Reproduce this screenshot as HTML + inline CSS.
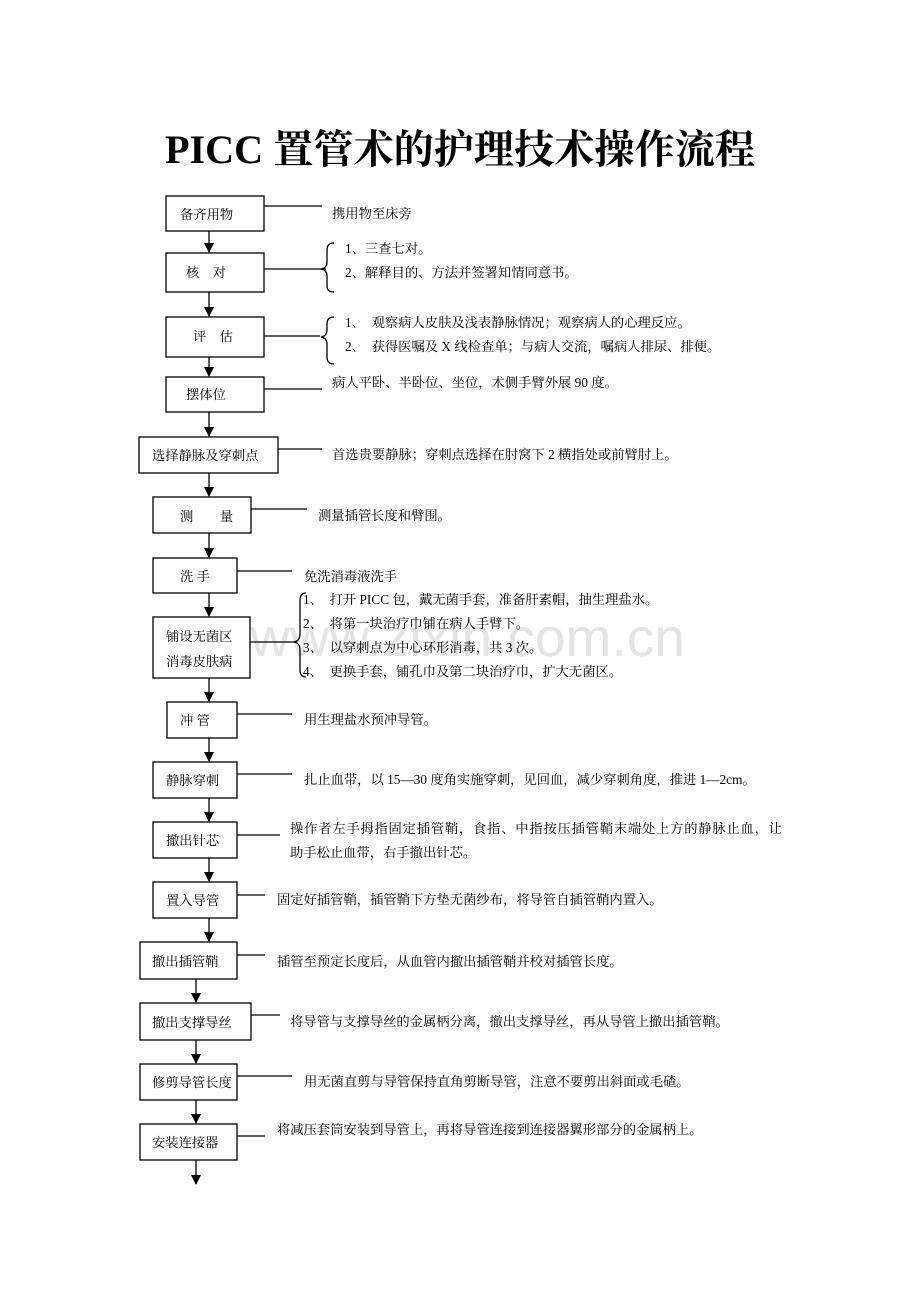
<!DOCTYPE html>
<html><head><meta charset="utf-8"><style>
html,body{margin:0;padding:0;background:#fff}
svg{display:block}
text{font-family:"Liberation Serif","Noto Serif CJK SC","Noto Sans CJK SC",serif;font-size:13.3px;fill:#000}
.t{font-size:40px;font-weight:bold}
.w{font-family:"Liberation Sans",sans-serif;font-size:54px;fill:#e4e4e4}
</style></head><body>
<svg width="920" height="1302" viewBox="0 0 920 1302" xmlns="http://www.w3.org/2000/svg">
<defs><marker id="a" markerWidth="10" markerHeight="10" refX="5" refY="9" orient="0" markerUnits="userSpaceOnUse"><path d="M0,0 L10,0 L5,10 Z" fill="#000"/></marker></defs>
<text class="w" x="250" y="656" textLength="435" lengthAdjust="spacingAndGlyphs">www.zixin.com.cn</text>
<text class="t" x="460" y="163" text-anchor="middle" textLength="590" lengthAdjust="spacingAndGlyphs">PICC 置管术的护理技术操作流程</text>
<g fill="none" stroke="#000" stroke-width="1.3">
<rect x="166" y="196" width="98" height="35"/>
<rect x="166" y="253" width="98" height="39"/>
<rect x="166" y="317" width="98" height="40"/>
<rect x="166" y="377" width="98" height="35"/>
<rect x="139" y="437" width="139" height="36"/>
<rect x="153" y="497" width="98" height="36"/>
<rect x="153" y="558" width="84" height="35"/>
<rect x="153" y="617" width="97" height="61"/>
<rect x="167" y="702" width="70" height="36"/>
<rect x="153" y="762" width="84" height="36"/>
<rect x="153" y="822" width="84" height="36"/>
<rect x="153" y="882" width="84" height="36"/>
<rect x="140" y="942" width="97" height="37"/>
<rect x="140" y="1003" width="111" height="37"/>
<rect x="140" y="1064" width="97" height="36"/>
<rect x="140" y="1124" width="97" height="36"/>
<path d="M264 206H322M264 269H326M264 336H320M264 389H322M278 449H322M251 509H307M237 571H292M250 642H295M237 714H292M237 774H292M237 835H280M237 895H265M237 955H265M251 1015H280M237 1076H292M237 1136H265"/>
<path d="M334 243 Q327 243 327 250 V262 Q327 268 321 269 Q327 270 327 276 V286 Q327 292 334 292"/>
<path d="M334 317 Q327 317 327 324 V330 Q327 336 321 337 Q327 338 327 344 V357 Q327 364 334 364"/>
<path d="M306 593 Q300 593 300 600 V634 Q300 641 294 642 Q300 643 300 650 V670 Q300 677 306 677"/>
</g>
<g stroke="#000" stroke-width="1.3">
<line x1="209" y1="231" x2="209" y2="252" marker-end="url(#a)"/>
<line x1="209" y1="292" x2="209" y2="316" marker-end="url(#a)"/>
<line x1="209" y1="357" x2="209" y2="376" marker-end="url(#a)"/>
<line x1="209" y1="412" x2="209" y2="436" marker-end="url(#a)"/>
<line x1="209" y1="473" x2="209" y2="496" marker-end="url(#a)"/>
<line x1="209" y1="533" x2="209" y2="557" marker-end="url(#a)"/>
<line x1="209" y1="593" x2="209" y2="616" marker-end="url(#a)"/>
<line x1="209" y1="678" x2="209" y2="701" marker-end="url(#a)"/>
<line x1="209" y1="738" x2="209" y2="761" marker-end="url(#a)"/>
<line x1="209" y1="798" x2="209" y2="821" marker-end="url(#a)"/>
<line x1="209" y1="858" x2="209" y2="881" marker-end="url(#a)"/>
<line x1="209" y1="918" x2="209" y2="941" marker-end="url(#a)"/>
<line x1="196" y1="979" x2="196" y2="1002" marker-end="url(#a)"/>
<line x1="196" y1="1040" x2="196" y2="1063" marker-end="url(#a)"/>
<line x1="196" y1="1100" x2="196" y2="1123" marker-end="url(#a)"/>
<line x1="196" y1="1160" x2="196" y2="1184" marker-end="url(#a)"/>
</g>
<text x="180" y="219">备齐用物</text>
<text x="186" y="277">核　对</text>
<text x="193" y="341">评　估</text>
<text x="186" y="399">摆体位</text>
<text x="152" y="460">选择静脉及穿刺点</text>
<text x="180" y="521">测　　量</text>
<text x="180" y="581">洗 手</text>
<text x="166" y="641">铺设无菌区</text>
<text x="166" y="666">消毒皮肤病</text>
<text x="180" y="725">冲 管</text>
<text x="166" y="785">静脉穿刺</text>
<text x="166" y="845">撤出针芯</text>
<text x="166" y="905">置入导管</text>
<text x="152" y="966">撤出插管鞘</text>
<text x="152" y="1027">撤出支撑导丝</text>
<text x="152" y="1087">修剪导管长度</text>
<text x="152" y="1147">安装连接器</text>
<text x="332" y="218">携用物至床旁</text>
<text x="345" y="253">1、三查七对。</text>
<text x="345" y="277">2、解释目的、方法并签署知情同意书。</text>
<text x="345" y="327">1、　观察病人皮肤及浅表静脉情况；观察病人的心理反应。</text>
<text x="345" y="351">2、　获得医嘱及 X 线检查单；与病人交流，嘱病人排尿、排便。</text>
<text x="332" y="387">病人平卧、半卧位、坐位，术侧手臂外展 90 度。</text>
<text x="332" y="459">首选贵要静脉；穿刺点选择在肘窝下 2 横指处或前臂肘上。</text>
<text x="318" y="520">测量插管长度和臂围。</text>
<text x="304" y="581">免洗消毒液洗手</text>
<text x="303" y="604">1、　打开 PICC 包，戴无菌手套，准备肝素帽，抽生理盐水。</text>
<text x="303" y="628">2、　将第一块治疗巾铺在病人手臂下。</text>
<text x="303" y="652">3、　以穿刺点为中心环形消毒，共 3 次。</text>
<text x="303" y="676">4、　更换手套，铺孔巾及第二块治疗巾，扩大无菌区。</text>
<text x="304" y="724">用生理盐水预冲导管。</text>
<text x="304" y="784">扎止血带，以 15—30 度角实施穿刺，见回血，减少穿刺角度，推进 1—2cm。</text>
<text x="290" y="833" textLength="492" lengthAdjust="spacing">操作者左手拇指固定插管鞘，食指、中指按压插管鞘末端处上方的静脉止血，让</text>
<text x="290" y="857">助手松止血带，右手撤出针芯。</text>
<text x="277" y="904">固定好插管鞘，插管鞘下方垫无菌纱布，将导管自插管鞘内置入。</text>
<text x="277" y="966">插管至预定长度后，从血管内撤出插管鞘并校对插管长度。</text>
<text x="290" y="1026">将导管与支撑导丝的金属柄分离，撤出支撑导丝，再从导管上撤出插管鞘。</text>
<text x="304" y="1086">用无菌直剪与导管保持直角剪断导管，注意不要剪出斜面或毛碴。</text>
<text x="277" y="1134">将减压套筒安装到导管上，再将导管连接到连接器翼形部分的金属柄上。</text>
</svg>
</body></html>
